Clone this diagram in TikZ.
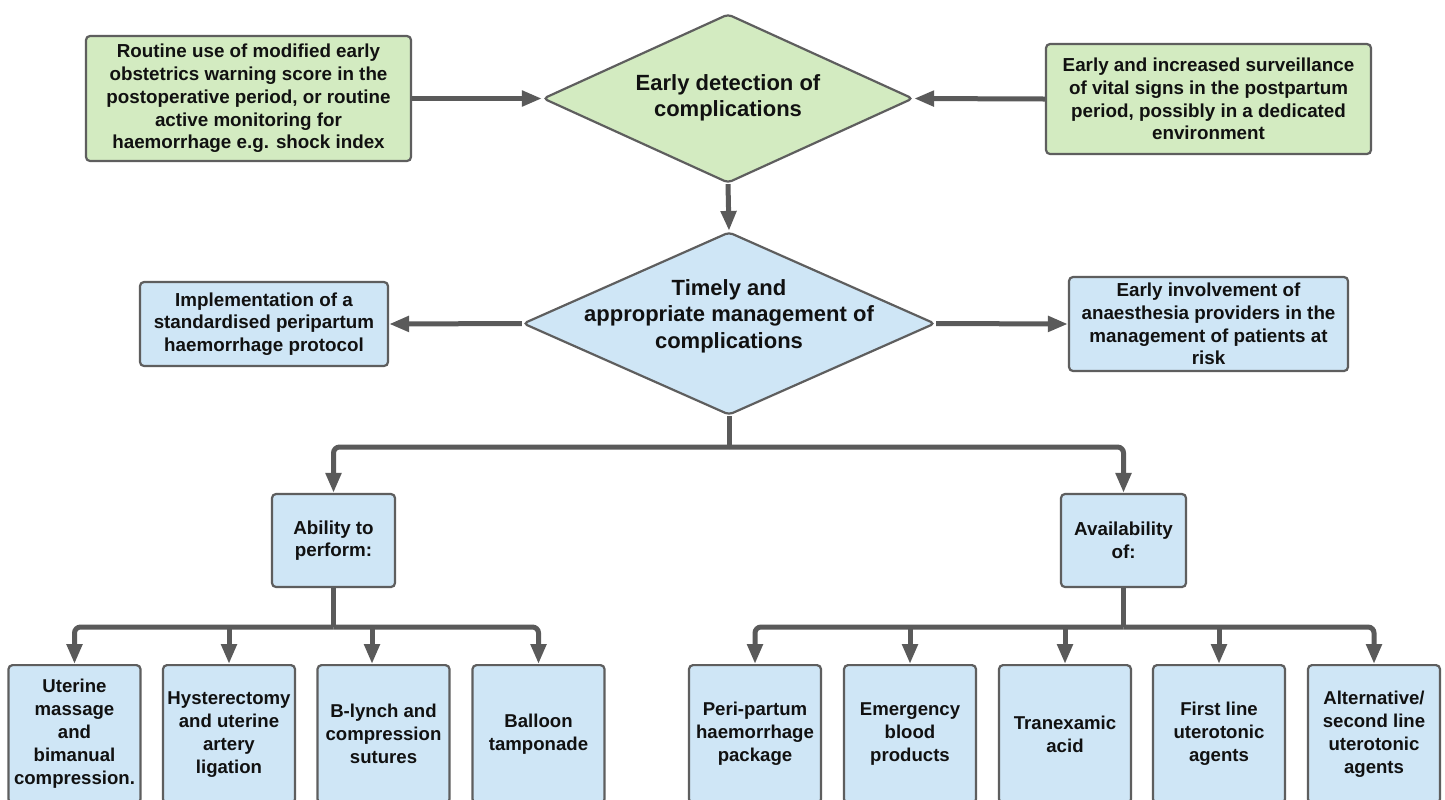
\documentclass[tikz,border=0pt]{standalone}
\usepackage{fontspec}
\setmainfont{Liberation Sans}
\usetikzlibrary{arrows.meta,shapes.geometric}
\definecolor{gfill}{HTML}{D3EBC1}
\definecolor{bfill}{HTML}{CFE6F6}
\definecolor{edgec}{HTML}{5E5E5E}
\definecolor{lnk}{HTML}{5A5A5A}
\definecolor{ink}{HTML}{111111}
\begin{document}
\begin{tikzpicture}[x=0.5pt,y=-0.5pt,
  box/.style={draw=edgec, line width=1.1pt, rounded corners=2pt, align=center, text=ink, inner sep=0pt,
    font=\fontsize{9.4}{11.35}\selectfont\bfseries},
  gbox/.style={box, fill=gfill},
  bbox/.style={box, fill=bfill},
  lbox/.style={bbox, anchor=north, minimum width=66pt, minimum height=69pt,
    font=\fontsize{9.3}{11.5}\selectfont\bfseries},
  dia/.style={diamond, draw=edgec, line width=1.1pt, inner sep=0pt, rounded corners=2pt},
  dtext/.style={align=center, text=ink, inner sep=0pt, font=\fontsize{11}{13.3}\selectfont\bfseries},
  conn/.style={draw=lnk, line width=2.5pt},
  arr/.style={conn, -{Triangle[length=10pt,width=7.5pt]}},
]
\useasboundingbox (0,0) rectangle (1445,799);
\clip (0,0) rectangle (1445,799);
\fill[white] (0,0) rectangle (1445,799);

% top row
\node[gbox, minimum width=162.5pt, minimum height=62.5pt] (g1) at (248.5,98.5)
  {Routine use of modified early\\obstetrics warning score in the\\postoperative period, or routine\\active monitoring for\\haemorrhage e.g. shock index};
\node[dia, fill=gfill, minimum width=185pt, minimum height=84.5pt] (d1) at (728,98.5) {};
\node[dtext] (d1t) at (728,98) {Early detection of\\complications};
\node[gbox, minimum width=162.5pt, minimum height=55pt] (g2) at (1208.5,99)
  {Early and increased surveillance\\of vital signs in the postpartum\\period, possibly in a dedicated\\environment};

% second row
\node[dia, fill=bfill, minimum width=206pt, minimum height=91.5pt] (d2) at (729,323.5) {};
\node[dtext] (d2t) at (729,316) {Timely and\\appropriate management of\\complications};
\node[bbox, minimum width=124pt, minimum height=42pt] (m1) at (264,324)
  {Implementation of a\\standardised peripartum\\haemorrhage protocol};
\node[bbox, minimum width=139.5pt, minimum height=47pt] (m2) at (1208.5,324)
  {Early involvement of\\anaesthesia providers in the\\management of patients at\\risk};

% third row
\node[bbox, minimum width=61.5pt, minimum height=46.5pt] (ab) at (333.5,540.5) {Ability to\\perform:};
\node[bbox, minimum width=62.5pt, minimum height=46.5pt] (av) at (1123.5,540.5) {Availability\\of:};

% bottom row
\node[lbox] (u1) at (74.5,664) {Uterine\\massage\\and\\bimanual\\compression.};
\node[lbox] (u2) at (229,664) {Hysterectomy\\and uterine\\artery\\ligation};
\node[lbox] (u3) at (383.5,664) {B-lynch and\\compression\\sutures};
\node[lbox] (u4) at (538.5,664) {Balloon\\tamponade};
\node[lbox] (v1) at (755,664) {Peri-partum\\haemorrhage\\package};
\node[lbox] (v2) at (910,664) {Emergency\\blood\\products};
\node[lbox] (v3) at (1065,664) {Tranexamic\\acid};
\node[lbox] (v4) at (1219,664) {First line\\uterotonic\\agents};
\node[lbox] (v5) at (1374,664) {Alternative/\\second line\\uterotonic\\agents};

% connectors
\draw[arr] (g1.east) -- (d1.west);
\draw[arr] (g2.west) -- (d1.east);
\draw[arr] (d1.south) -- (d2.north);
\draw[arr] (d2.west) -- (m1.east);
\draw[arr] (d2.east) -- (m2.west);

\coordinate (j1) at (729,447);
\draw[conn] (d2.south) -- (j1);
\draw[arr, rounded corners=3pt] (j1) -| (ab.north);
\draw[arr, rounded corners=3pt] (j1) -| (av.north);

\coordinate (jl) at (333.5,627);
\draw[conn] (ab.south) -- (jl);
\draw[arr, rounded corners=3pt] (jl) -| (u1.north);
\draw[arr] (jl -| u2.north) -- (u2.north);
\coordinate (u3in) at (372,664);
\draw[arr] (jl -| u3in) -- (u3in);
\draw[arr, rounded corners=3pt] (jl) -| (u4.north);

\coordinate (jr) at (1123.5,627);
\draw[conn] (av.south) -- (jr);
\draw[arr, rounded corners=3pt] (jr) -| (v1.north);
\draw[arr] (jr -| v2.north) -- (v2.north);
\draw[arr] (jr -| v3.north) -- (v3.north);
\draw[arr] (jr -| v4.north) -- (v4.north);
\draw[arr, rounded corners=3pt] (jr) -| (v5.north);
\end{tikzpicture}
\end{document}
